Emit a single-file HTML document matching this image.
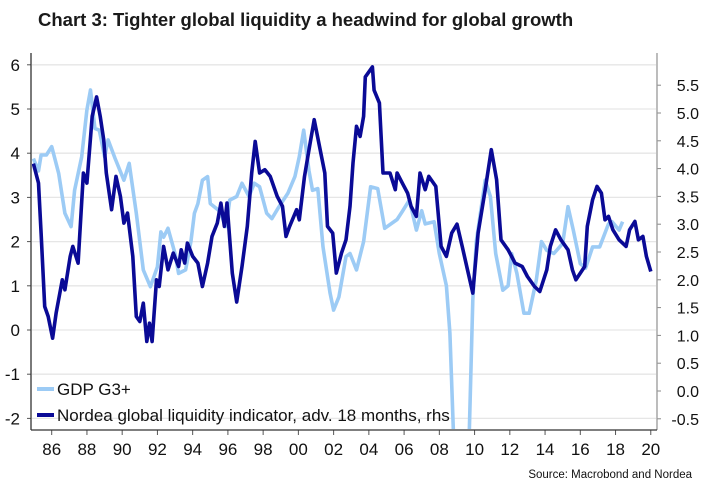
<!DOCTYPE html>
<html><head><meta charset="utf-8"><style>
html,body{margin:0;padding:0;background:#fff;}
svg{display:block;font-family:"Liberation Sans",sans-serif;}
</style></head><body>
<svg id="chart" width="707" height="491" viewBox="0 0 707 491">
<text x="38" y="26" font-size="18.5" fill="#1a1a1a" font-weight="bold" style="font-weight:600">Chart 3: Tighter global liquidity a headwind for global growth</text>
<defs><clipPath id="plotclip"><rect x="32" y="53" width="624" height="376"/></clipPath></defs>
<g id="grid"></g>
<g id="series" clip-path="url(#plotclip)"></g>
<g id="axes"></g>
<g>
<line x1="37" y1="389" x2="54" y2="389" stroke="#9ccbf5" stroke-width="4"/>
<text x="57" y="395" font-size="17" fill="#111">GDP G3+</text>
<line x1="37" y1="415" x2="54" y2="415" stroke="#0a0a96" stroke-width="4"/>
<text x="57" y="421" font-size="17" fill="#111">Nordea global liquidity indicator, adv. 18 months, rhs</text>
</g>
<text x="692" y="478" font-size="11.5" fill="#111" text-anchor="end">Source: Macrobond and Nordea</text>
</svg>
<script>
const leftTicks=[6,5,4,3,2,1,0,-1,-2];
const rightTicks=[5.5,5.0,4.5,4.0,3.5,3.0,2.5,2.0,1.5,1.0,0.5,0.0,-0.5];
const xTickYears=[1986,1988,1990,1992,1994,1996,1998,2000,2002,2004,2006,2008,2010,2012,2014,2016,2018,2020];
const xTickLabels=["86","88","90","92","94","96","98","00","02","04","06","08","10","12","14","16","18","20"];
const gdpYears=[1984.96,1985.25,1985.4,1985.7,1986.0,1986.4,1986.75,1987.1,1987.3,1987.7,1988.0,1988.2,1988.45,1988.7,1989.0,1989.2,1989.6,1990.1,1990.4,1990.8,1991.2,1991.6,1992.0,1992.2,1992.35,1992.6,1993.0,1993.2,1993.6,1993.9,1994.1,1994.3,1994.55,1994.85,1995.0,1995.5,1995.9,1996.1,1996.5,1996.8,1997.2,1997.5,1997.8,1998.2,1998.5,1998.9,1999.4,1999.8,2000.05,2000.3,2000.6,2000.8,2001.1,2001.4,2001.8,2002.0,2002.3,2002.7,2002.93,2003.3,2003.7,2004.1,2004.5,2004.9,2005.6,2005.9,2006.3,2006.7,2007.0,2007.2,2007.7,2008.0,2008.4,2008.6,2008.8,2009.2,2009.7,2009.9,2010.1,2010.6,2010.9,2011.2,2011.6,2011.9,2012.1,2012.4,2012.8,2013.1,2013.5,2013.8,2014.1,2014.5,2015.0,2015.3,2015.6,2016.0,2016.3,2016.7,2017.1,2017.6,2017.8,2018.2,2018.4];
const gdpValues=[3.88,3.6,3.96,3.96,4.15,3.54,2.64,2.34,3.16,3.92,4.98,5.43,4.56,4.52,3.92,4.3,3.88,3.39,3.77,2.64,1.36,0.98,1.43,2.22,2.1,2.3,1.73,1.28,1.36,2.0,2.64,2.86,3.39,3.47,2.86,2.7,2.34,2.94,3.02,3.32,3.02,3.32,3.24,2.64,2.52,2.79,3.09,3.47,3.92,4.52,3.6,3.16,3.2,1.88,0.83,0.45,0.75,1.66,1.73,1.36,2.0,3.24,3.2,2.3,2.5,2.68,2.94,2.26,2.7,2.4,2.45,1.73,1.0,-0.07,-2.3,-4.0,-2.3,0.68,2.0,3.39,3.02,1.73,0.9,1.0,1.73,1.28,0.38,0.38,1.13,2.0,1.8,1.73,1.96,2.79,2.26,1.5,1.4,1.88,1.88,2.4,2.45,2.26,2.45];
const liqYears=[1984.96,1985.25,1985.4,1985.6,1985.8,1986.05,1986.25,1986.6,1986.75,1987.05,1987.2,1987.5,1987.8,1988.0,1988.3,1988.55,1988.75,1988.95,1989.1,1989.4,1989.65,1989.9,1990.1,1990.3,1990.6,1990.8,1991.0,1991.2,1991.4,1991.55,1991.7,1991.95,1992.1,1992.35,1992.6,1992.9,1993.2,1993.35,1993.55,1993.7,1994.0,1994.3,1994.55,1994.85,1995.1,1995.4,1995.6,1995.8,1995.95,1996.25,1996.5,1996.8,1997.1,1997.35,1997.55,1997.8,1998.1,1998.4,1998.8,1999.1,1999.3,1999.5,1999.9,2000.05,2000.35,2000.6,2000.9,2001.2,2001.5,2001.65,2001.95,2002.15,2002.45,2002.7,2002.93,2003.1,2003.3,2003.5,2003.7,2003.8,2004.2,2004.3,2004.6,2004.8,2005.2,2005.5,2005.6,2005.9,2006.2,2006.4,2006.7,2006.9,2007.2,2007.4,2007.8,2008.1,2008.4,2008.7,2009.0,2009.3,2009.6,2009.9,2010.2,2010.6,2010.95,2011.25,2011.5,2011.9,2012.3,2012.7,2013.0,2013.4,2013.7,2014.1,2014.3,2014.6,2014.9,2015.3,2015.55,2015.75,2016.0,2016.25,2016.4,2016.7,2016.95,2017.2,2017.4,2017.6,2017.85,2018.2,2018.6,2018.8,2019.1,2019.3,2019.55,2019.75,2020.0];
const liqValues=[4.09,3.74,2.84,1.52,1.34,0.95,1.4,2.0,1.82,2.42,2.6,2.3,3.92,3.74,4.94,5.29,4.94,4.52,3.92,3.26,3.86,3.5,3.02,3.2,2.42,1.34,1.25,1.58,0.89,1.22,0.89,2.0,1.88,2.6,2.18,2.48,2.24,2.54,2.3,2.66,2.42,2.3,1.88,2.3,2.78,3.02,3.38,2.96,3.38,2.12,1.6,2.24,2.96,3.92,4.49,3.92,3.98,3.86,3.5,3.32,2.78,2.96,3.26,3.08,3.86,4.34,4.88,4.4,3.92,2.96,2.84,2.12,2.48,2.72,3.32,4.1,4.76,4.58,4.94,5.65,5.83,5.41,5.18,3.92,3.92,3.62,3.92,3.74,3.56,3.32,3.14,3.92,3.62,3.86,3.68,2.6,2.42,2.84,3.0,2.6,2.18,1.76,2.84,3.62,4.34,3.8,2.72,2.54,2.3,2.24,2.06,1.88,1.79,2.18,2.6,2.9,2.72,2.54,2.18,2.0,2.12,2.24,2.96,3.44,3.68,3.56,3.08,3.14,2.9,2.72,2.6,2.9,3.05,2.72,2.78,2.42,2.15];

const NS="http://www.w3.org/2000/svg";
function xS(yr){return 51.7+(yr-1986)*17.62;}
function yL(v){return 330-44.2*v;}
function yR(v){return 391-55.6*v;}
function mk(tag,attrs,parent){const e=document.createElementNS(NS,tag);for(const k in attrs)e.setAttribute(k,attrs[k]);parent.appendChild(e);return e;}
const grid=document.getElementById('grid'),axes=document.getElementById('axes'),series=document.getElementById('series');
leftTicks.forEach(v=>{
  const g=mk('line',{x1:32,x2:656,y1:yL(v),y2:yL(v),stroke:'#e6e6e6','stroke-width':1.3},grid);
  
  
  const t=mk('line',{x1:27,x2:31,y1:yL(v),y2:yL(v),stroke:'#555','stroke-width':1},axes);
  
  
  const l=mk('text',{x:20,y:yL(v)+6,'font-size':17,'text-anchor':'end',fill:'#111'},axes);
  l.textContent=String(v).replace('-','-');
  
  
});
rightTicks.forEach(v=>{
  const t=mk('line',{x1:657,x2:661,y1:yR(v),y2:yR(v),stroke:'#888','stroke-width':1},axes);
  
  
  const l=mk('text',{x:699,y:yR(v)+6,'font-size':16,'text-anchor':'end',fill:'#111'},axes);
  l.textContent=v.toFixed(1);
  
  
});
xTickYears.forEach((yr,i)=>{
  const t=mk('line',{x1:xS(yr),x2:xS(yr),y1:430,y2:435,stroke:'#555','stroke-width':1},axes);
  
  
  const l=mk('text',{x:xS(yr),y:455,'font-size':17,'text-anchor':'middle',fill:'#111'},axes);
  l.textContent=xTickLabels[i];
  
  
});
const la=mk('line',{x1:31,x2:31,y1:53,y2:430,stroke:'#333','stroke-width':1.3},axes);


const ra=mk('line',{x1:657,x2:657,y1:53,y2:430,stroke:'#999','stroke-width':1.3},axes);


const ba=mk('line',{x1:31,x2:657,y1:430,y2:430,stroke:'#333','stroke-width':1.3},axes);


const gp=mk('polyline',{points:gdpYears.map((y,i)=>xS(y).toFixed(1)+','+yL(gdpValues[i]).toFixed(1)).join(' '),fill:'none',stroke:'#9ccbf5','stroke-width':3.6,'stroke-linejoin':'round'},series);


const lp=mk('polyline',{points:liqYears.map((y,i)=>xS(y).toFixed(1)+','+yR(liqValues[i]).toFixed(1)).join(' '),fill:'none',stroke:'#0a0a96','stroke-width':3.6,'stroke-linejoin':'round'},series);


</script>
</body></html>
